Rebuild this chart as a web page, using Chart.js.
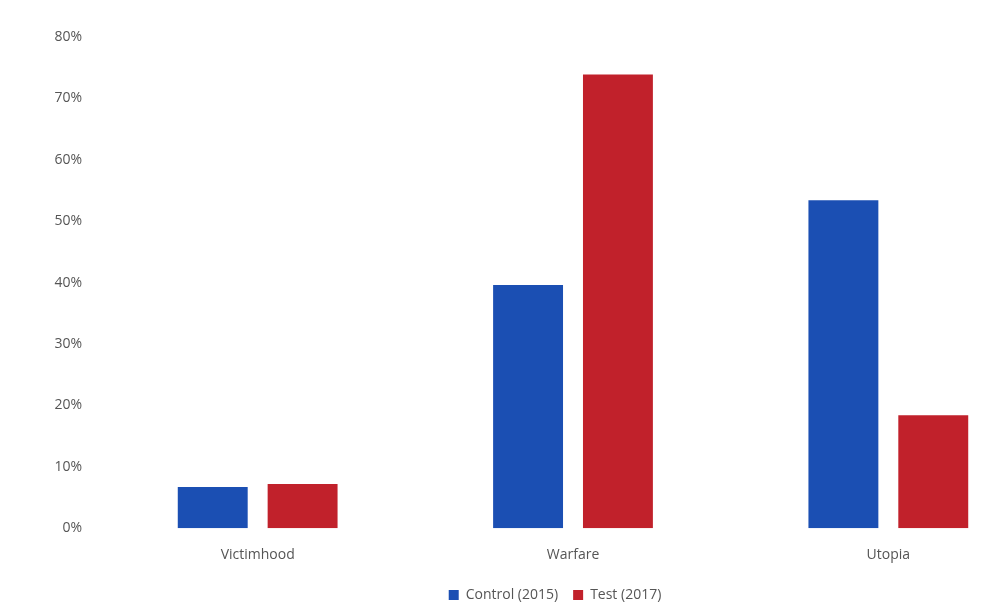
<!DOCTYPE html>
<html>
<head>
<meta charset="utf-8">
<script src="https://cdn.jsdelivr.net/npm/chart.js@4"></script>
<style>
  html, body { margin: 0; padding: 0; background: #fff; overflow: hidden; width: 1008px; height: 612px; }
  #wrap { width: 1110px; height: 612px; }
</style>
</head>
<body>
<div id="wrap"><canvas id="myChart" width="1110" height="612"></canvas></div>
<script>
const categories = ['Victimhood', 'Warfare', 'Utopia'];
const seriesNames = ['Control (2015)', 'Test (2017)'];
const controlValues = [6.7, 39.6, 53.4];
const testValues = [7.2, 73.9, 18.4];
const yTicks = [0, 10, 20, 30, 40, 50, 60, 70, 80];

const blue = '#1b4fb3';
const red = '#c1212b';
const textColor = '#555';

// the reference is cropped on the right, so the legend sits right of centre
const shiftLegend = {
  id: 'shiftLegend',
  afterLayout(chart) {
    chart.legend.left += 32;
    chart.legend.right += 32;
  },
};

new Chart('myChart', {
  type: 'bar',
  data: {
    labels: categories,
    datasets: [
      { label: seriesNames[0], data: controlValues, backgroundColor: blue },
      { label: seriesNames[1], data: testValues, backgroundColor: red },
    ],
  },
  options: {
    responsive: false,
    animation: false,
    layout: { padding: { left: 0, right: 64, top: 37, bottom: 0 } },
    datasets: { bar: { categoryPercentage: 0.57, barPercentage: 0.778 } },
    scales: {
      x: {
        grid: { display: false },
        border: { display: false },
        ticks: { color: textColor, font: { family: 'Open Sans', size: 14 }, padding: 10 },
      },
      y: {
        min: 0,
        max: 80,
        afterFit: (axis) => { axis.width = 100; },
        afterBuildTicks: (axis) => { axis.ticks = yTicks.map((v) => ({ value: v })); },
        grid: { display: false },
        border: { display: false },
        ticks: {
          color: textColor,
          font: { family: 'Open Sans', size: 14 },
          padding: 10,
          callback: (v) => v + '%',
        },
      },
    },
    plugins: {
      tooltip: { enabled: false },
      legend: {
        position: 'bottom',
        labels: {
          color: textColor,
          font: { family: 'Open Sans', size: 14 },
          boxWidth: 10,
          boxHeight: 10,
          padding: 15,
        },
      },
    },
  },
  plugins: [shiftLegend],
});
</script>
</body>
</html>
